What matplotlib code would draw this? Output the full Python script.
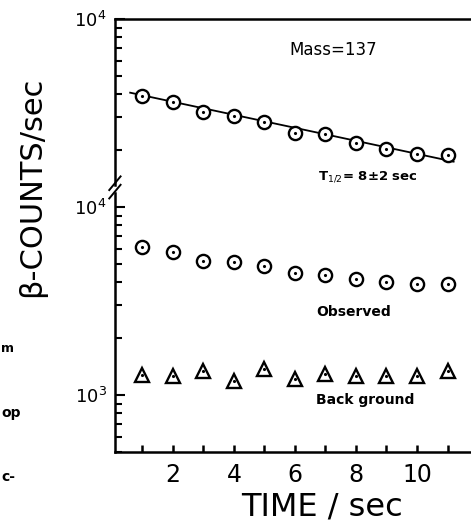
import numpy as np
import matplotlib
matplotlib.use('Agg')
from matplotlib import pyplot as plt
from matplotlib.ticker import LogLocator, NullFormatter, FixedLocator

# counting times (s)
time_s = [1, 2, 3, 4, 5, 6, 7, 8, 9, 10, 11]

# beta counts per second
observed = [6150, 5740, 5160, 5120, 4860, 4440, 4330, 4120, 3975, 3880, 3890]
background = [1277, 1262, 1341, 1192, 1370, 1211, 1288, 1262, 1262, 1262, 1347]
net = [3910, 3632, 3190, 3060, 2820, 2485, 2445, 2180, 2035, 1914, 1890]

# decay fit drawn through the net counts
fit_a0 = 4256.0
fit_half_life = 8.7
fit_range = [0.6, 11.2]

plt.rcParams['font.family'] = 'DejaVu Sans'

fig = plt.figure(figsize=(4.71, 5.25), dpi=100)
ax_up = fig.add_axes([0.244, 0.6476, 0.756, 0.3162])
ax_lo = fig.add_axes([0.244, 0.139, 0.756, 0.4934])

for ax in (ax_up, ax_lo):
    ax.set_yscale('log')
    ax.set_xlim(0.1, 11.77)
    ax.spines['right'].set_visible(False)
    for s in ax.spines.values():
        s.set_linewidth(1.8)
    ax.tick_params(axis='y', which='both', direction='in', width=1.5, labelsize=13, pad=6)
    ax.tick_params(axis='y', which='major', length=7)
    ax.tick_params(axis='y', which='minor', length=5)
    ax.yaxis.set_minor_locator(LogLocator(base=10, subs=np.arange(2, 10)))
    ax.yaxis.set_minor_formatter(NullFormatter())

ax_up.set_ylim(1310, 10000)
ax_up.spines['bottom'].set_visible(False)
ax_up.set_xticks([])
ax_up.yaxis.set_major_locator(FixedLocator([10000]))

ax_lo.set_ylim(498, 11870)
ax_lo.spines['top'].set_visible(False)
ax_lo.yaxis.set_major_locator(FixedLocator([1000, 10000]))
ax_lo.set_xticks([2, 4, 6, 8, 10])
ax_lo.set_xticks([1, 3, 5, 7, 9, 11], minor=True)
ax_lo.tick_params(axis='x', which='both', direction='in', length=5, width=1.8,
                  labelsize=17, pad=8)

# net counts with the fitted decay line
tf = np.linspace(fit_range[0], fit_range[1], 50)
ax_up.plot(tf, fit_a0 * 0.5 ** (tf / fit_half_life), color='black', lw=1.3)
ax_up.plot(time_s, net, 'o', ms=9.5, mfc='white', mec='black', mew=1.7, clip_on=False)
ax_up.plot(time_s, net, '.', ms=2.5, color='black')

ax_lo.plot(time_s, observed, 'o', ms=9.5, mfc='white', mec='black', mew=1.7)
ax_lo.plot(time_s, observed, '.', ms=2.5, color='black')
ax_lo.plot(time_s, background, '^', ms=9.5, mfc='white', mec='black', mew=1.7)
ax_lo.plot(time_s, background, '.', ms=2.5, color='black')

ax_up.text(0.49, 0.76, 'Mass=137', transform=ax_up.transAxes, fontsize=12,
           va='bottom')
ax_up.text(0.57, 0.005, r'T$_{1/2}$= 8±2 sec', transform=ax_up.transAxes,
           fontsize=9.5, fontweight='bold', va='bottom')
ax_lo.text(0.565, 0.525, 'Observed', transform=ax_lo.transAxes, fontsize=10,
           fontweight='bold')
ax_lo.text(0.565, 0.185, 'Back ground', transform=ax_lo.transAxes, fontsize=10,
           fontweight='bold')

# axis break marks on the left spine
for dy in (0.0, 0.016):
    fig.add_artist(plt.Line2D([0.232, 0.256], [0.622 + dy, 0.648 + dy],
                              color='black', lw=1.4))

fig.text(0.068, 0.644, 'β-COUNTS/sec', rotation=90, fontsize=22,
         ha='center', va='center')
fig.text(0.684, 0.034, 'TIME / sec', fontsize=23, ha='center', va='center')

# fragments of neighbouring text on the page
fig.text(0.003, 0.33, 'm', fontsize=9, fontweight='bold')
fig.text(0.003, 0.205, 'op', fontsize=10, fontweight='bold')
fig.text(0.003, 0.083, 'c-', fontsize=10, fontweight='bold')

fig.savefig('out.png', dpi=100)
